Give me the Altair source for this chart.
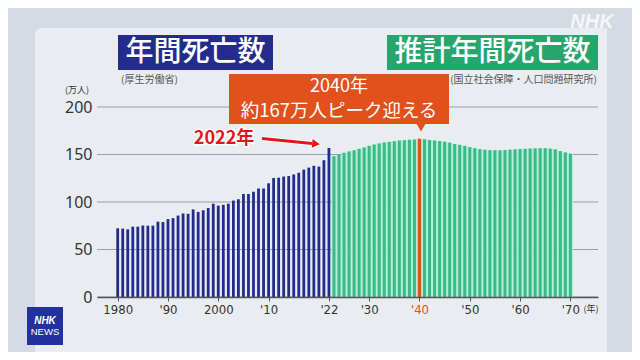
import json
import altair as alt
import pandas as pd

# ---------------- data ----------------
hist_years = list(range(1980, 2023))
hist_deaths = [72.3, 72.0, 71.2, 74.0, 74.0, 75.2, 75.1, 75.1, 79.3, 78.9,
               82.0, 83.0, 85.7, 87.9, 87.6, 92.2, 89.6, 91.3, 93.6, 98.2,
               96.2, 97.0, 98.2, 101.5, 102.9, 108.4, 108.4, 110.8, 114.2, 114.2,
               119.7, 125.3, 125.6, 126.8, 127.3, 129.0, 130.8, 134.1, 136.2, 138.1,
               137.3, 144.0, 156.9]
proj_years = list(range(2023, 2071))
proj_deaths = [148.2, 149.6, 151.8, 153.2, 154.6, 156.0, 157.4, 159.1, 160.5, 161.6,
               162.6, 163.3, 164.0, 164.7, 165.1, 165.5, 165.8, 166.6, 166.0, 165.3,
               164.8, 164.1, 163.4, 162.5, 161.1, 160.2, 159.1, 157.7, 156.7, 155.6,
               155.0, 154.6, 154.5, 154.5, 154.8, 155.1, 155.4, 155.7, 156.0, 156.3,
               156.5, 156.6, 156.6, 156.2, 155.5, 153.6, 152.2, 151.0]
peak_year = 2040
tick_years = [1980, 1990, 2000, 2010, 2022, 2030, 2040, 2050, 2060, 2070]
tick_labels = ["1980", "'90", "2000", "'10", "'22", "'30", "'40", "'50", "'60", "'70"]
y_ticks = [0, 50, 100, 150, 200]

hist = pd.DataFrame({"year": hist_years, "deaths": hist_deaths})
proj = pd.DataFrame({"year": proj_years, "deaths": proj_deaths})
proj_main = proj[proj["year"] != peak_year]
peak = proj[proj["year"] == peak_year]
grid = pd.DataFrame({"v": y_ticks})

# ---------------- layout helpers ----------------
OX, OY = 97, 107          # page position of plot origin
W, H = 501, 190

def px(x):
    return x - OX

def py(y):
    return y - OY

NAVY = "#232c8c"
GREEN = "#3cb98a"
MINT = "#aef0d2"
ORANGE = "#e2501c"
RED = "#e3141b"
JP = "Noto Sans CJK JP"

label_expr = f"{json.dumps(tick_labels)}[indexof({json.dumps(tick_years)}, datum.value)]"

xscale = alt.Scale(domain=[1976.88, 2074.5], nice=False, zero=False)
yscale = alt.Scale(domain=[0, 200], nice=False)

x_enc = alt.X("year:Q", scale=xscale, title=None,
              axis=alt.Axis(values=tick_years, labelExpr=label_expr, grid=False,
                            domainColor="#555555", domainWidth=1.5,
                            tickColor="#555555", tickSize=4, labelPadding=2,
                            labelFont="Liberation Sans Narrow, DejaVu Sans Condensed, Roboto, sans-serif",
                            labelFontSize=13,
                            labelColor={"expr": f"datum.value == {peak_year} ? '{ORANGE}' : '#333333'"},
                            zindex=1))
y_axis = alt.Axis(values=y_ticks, grid=False, domain=False, ticks=False,
                  labelPadding=5, labelFont="Noto Sans", labelFontSize=16,
                  labelColor="#333333", zindex=1)


def one(**kw):
    return pd.DataFrame({k: [v] for k, v in kw.items()})


def box(x1, y1, x2, y2, color, **mk):
    return alt.Chart(one(a=0)).mark_rect(color=color, **mk).encode(
        x=alt.value(px(x1)), x2=alt.value(px(x2)), y=alt.value(py(y1)), y2=alt.value(py(y2)))


def txt(s, x, y, **mk):
    return alt.Chart(one(t=s)).mark_text(**mk).encode(
        x=alt.value(px(x)), y=alt.value(py(y)), text="t:N")


# ---------------- layers ----------------
panel = box(35, 28, 607, 360, "#e9ecf0", cornerRadiusTopLeft=6)

grid_rules = alt.Chart(grid).mark_rule(color="#9aa0a8", strokeWidth=1).encode(
    y=alt.Y("v:Q", scale=yscale, axis=y_axis, title=None))

mint = alt.Chart(proj).mark_bar(size=5.2).encode(
    x=x_enc, y=alt.Y("deaths:Q", scale=yscale, axis=y_axis, title=None),
    color=alt.condition(alt.datum.year == peak_year, alt.value("#f2dcb5"), alt.value(MINT)))

blue = alt.Chart(hist).mark_bar(size=2.8, color=NAVY).encode(
    x=x_enc, y=alt.Y("deaths:Q", scale=yscale, axis=y_axis, title=None))
green = alt.Chart(proj_main).mark_bar(size=3, color=GREEN).encode(
    x=x_enc, y=alt.Y("deaths:Q", scale=yscale, axis=y_axis, title=None))
orange = alt.Chart(peak).mark_bar(size=3.4, color=ORANGE).encode(
    x=x_enc, y=alt.Y("deaths:Q", scale=yscale, axis=y_axis, title=None))

layers = [panel, grid_rules, mint, blue, green, orange]

# titles
layers += [
    box(118, 35, 273, 70, NAVY),
    txt("年間死亡数", 195.5, 53, font=JP, fontSize=28, fontWeight=500, color="white",
        align="center", baseline="middle"),
    txt("(厚生労働省)", 121, 80, font=JP, fontSize=10, color="#555555",
        align="left", baseline="middle"),
    box(387, 35, 598, 70, "#26a56c"),
    txt("推計年間死亡数", 492.5, 53, font=JP, fontSize=28, fontWeight=500, color="white",
        align="center", baseline="middle"),
    txt("(国立社会保障・人口問題研究所)", 597, 80, font=JP, fontSize=10, color="#555555",
        align="right", baseline="middle"),
    txt("(万人)", 77, 90, font=JP, fontSize=9, color="#333333",
        align="center", baseline="middle"),
    txt("(年)", 591, 309, font=JP, fontSize=9, color="#333333",
        align="center", baseline="middle"),
]

# callout
layers += [
    box(229, 74, 449, 124, ORANGE),
    alt.Chart(one(a=0)).mark_point(shape="triangle-down", filled=True, size=110,
                                   color=ORANGE, opacity=1).encode(
        x=alt.value(px(421)), y=alt.value(py(127))),
    txt("2040年", 339, 87, font=JP, fontSize=18, color="white",
        align="center", baseline="middle"),
    txt("約167万人ピーク迎える", 339, 111, font=JP, fontSize=18.5, color="white",
        align="center", baseline="middle"),
]

# 2022 arrow
layers += [
    alt.Chart(one(a=0)).mark_rule(color="white", strokeWidth=5).encode(
        x=alt.value(px(262)), x2=alt.value(px(312)), y=alt.value(py(138.5)), y2=alt.value(py(143.5))),
    alt.Chart(one(a=0)).mark_point(shape="triangle-right", filled=True, size=150,
                                   color="white", opacity=1, angle=6).encode(
        x=alt.value(px(316)), y=alt.value(py(143.8))),
    alt.Chart(one(a=0)).mark_rule(color=RED, strokeWidth=2.8).encode(
        x=alt.value(px(262)), x2=alt.value(px(312)), y=alt.value(py(138.5)), y2=alt.value(py(143.5))),
    alt.Chart(one(a=0)).mark_point(shape="triangle-right", filled=True, size=80,
                                   color=RED, opacity=1, angle=6).encode(
        x=alt.value(px(316)), y=alt.value(py(143.8))),
    txt("2022年", 224, 139, font=JP, fontSize=18, fontWeight="bold", color="white",
        stroke="white", strokeWidth=3, align="center", baseline="middle"),
    txt("2022年", 224, 139, font=JP, fontSize=18, fontWeight="bold", color=RED,
        align="center", baseline="middle"),
]

# logos
layers += [
    box(27, 307, 63, 345, "#2230a0"),
    txt("NHK", 45, 321, font="Liberation Sans", fontSize=10, fontWeight="bold",
        fontStyle="italic", color="white", align="center", baseline="middle"),
    txt("NEWS", 45, 332, font="Liberation Sans", fontSize=9.5, color="white",
        align="center", baseline="middle"),
    txt("NHK", 592, 22, font="Liberation Sans", fontSize=20, fontWeight="bold",
        fontStyle="italic", color="white", opacity=0.75, align="center", baseline="middle"),
]

chart = alt.layer(*layers).properties(
    width=W, height=H,
    background="#d5dbe3",
    padding={"left": 89, "top": 99, "right": 34, "bottom": 55},
    autosize=alt.AutoSizeParams(type="none"),
).configure_view(stroke=None)

chart.save("out.html", embed_options={"renderer": "svg", "actions": False})
